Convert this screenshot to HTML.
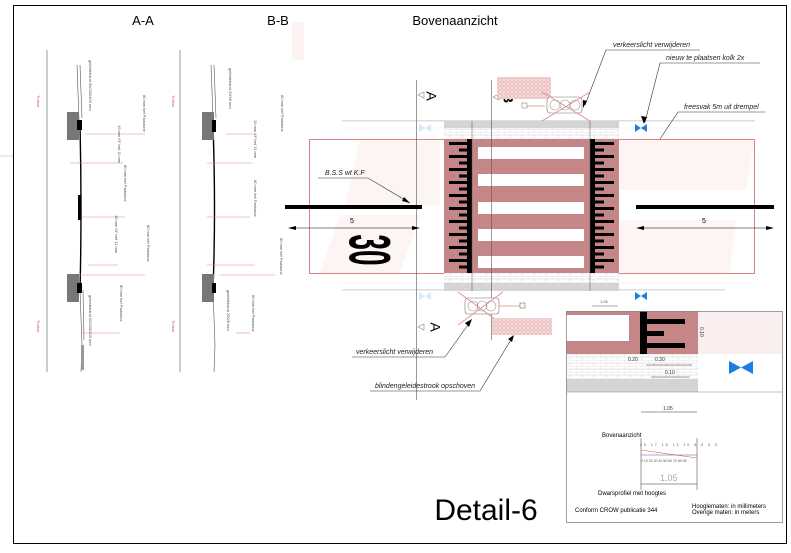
<!DOCTYPE html>
<html><head><meta charset="utf-8"><style>
html,body{margin:0;padding:0;background:#fff;}
svg{display:block;font-family:"Liberation Sans",sans-serif;}
.it{font-family:"Liberation Sans",sans-serif;font-style:italic;font-size:7px;fill:#222;}
.tiny{font-size:4px;fill:#555;}
</style></head><body>
<svg width="791" height="553" viewBox="0 0 791 553" xmlns="http://www.w3.org/2000/svg">
<defs>
<pattern id="brick" width="12" height="6" patternUnits="userSpaceOnUse">
<rect width="12" height="6" fill="#fff"/>
<path d="M0 0H12M0 3H12M0 0V3M6 3V6" stroke="#ccc" stroke-width="0.5" fill="none"/>
</pattern>
<pattern id="grid" width="4" height="4" patternUnits="userSpaceOnUse">
<rect width="4" height="4" fill="#f7dede"/><circle cx="2" cy="2" r="1.3" fill="none" stroke="#d99" stroke-width="0.5"/>
</pattern>
</defs>
<rect width="791" height="553" fill="#fff"/>
<rect x="13.5" y="5.5" width="773" height="538" fill="none" stroke="#000" stroke-width="1"/>
<line x1="0" y1="156" x2="13" y2="156" stroke="#aaa" stroke-width="0.5"/>

<text x="143" y="25" font-size="13" text-anchor="middle">A-A</text>
<text x="278" y="25" font-size="13" text-anchor="middle">B-B</text>
<text x="455" y="25" font-size="13" text-anchor="middle">Bovenaanzicht</text>
<rect x="292" y="22" width="12" height="38" fill="#fdf3f3"/>

<!-- A-A / B-B sections -->
<g stroke="#555" stroke-width="0.6" fill="none">
<line x1="47" y1="50" x2="47" y2="372"/>
<line x1="77" y1="65" x2="79" y2="120"/><line x1="80" y1="65" x2="82" y2="118"/>
<path d="M80 125 Q82 210 80 290" stroke="#000" stroke-width="1.4"/>
<path d="M80 290 L82 345 L81 372"/>
<line x1="83" y1="290" x2="84" y2="340"/>
<line x1="180" y1="50" x2="180" y2="372"/>
<line x1="211" y1="65" x2="213" y2="118"/><line x1="214" y1="65" x2="216" y2="118"/>
<path d="M213 125 Q216 210 213 290" stroke="#000" stroke-width="1.4"/>
<path d="M213 290 L215 345 L214 372"/>
</g>
<rect x="67" y="112" width="12" height="28" fill="#777"/>
<rect x="67" y="274" width="12" height="28" fill="#777"/>
<rect x="77" y="120" width="5" height="10" fill="#000"/>
<rect x="77" y="283" width="5" height="10" fill="#000"/>
<rect x="78" y="195" width="3" height="25" fill="#000"/>
<rect x="81" y="345" width="3" height="25" fill="#999"/>
<rect x="202" y="112" width="12" height="28" fill="#777"/>
<rect x="202" y="274" width="12" height="28" fill="#777"/>
<rect x="212" y="120" width="4" height="12" fill="#000"/>
<rect x="212" y="283" width="4" height="10" fill="#000"/>
<g stroke="#e08a8a" stroke-width="0.6">
<line x1="85" y1="134" x2="145" y2="134"/><line x1="70" y1="163" x2="123" y2="163"/>
<line x1="82" y1="217" x2="125" y2="217"/><line x1="88" y1="265" x2="118" y2="265"/>
<line x1="80" y1="275" x2="145" y2="275"/><line x1="82" y1="333" x2="120" y2="333"/>
<line x1="226" y1="134" x2="255" y2="134"/><line x1="207" y1="163" x2="252" y2="163"/>
<line x1="207" y1="217" x2="250" y2="217"/><line x1="207" y1="265" x2="255" y2="265"/>
<line x1="220" y1="275" x2="275" y2="275"/><line x1="236" y1="333" x2="250" y2="333"/>
</g>
<g class="tiny">
<text transform="translate(143,95) rotate(90)">80 mm kef Padstone</text>
<text transform="translate(118,125) rotate(90)">15 mm KF bef 11 mm</text>
<text transform="translate(124,165) rotate(90)">80 mm kef Padstone</text>
<text transform="translate(115,215) rotate(90)">15 mm KF bef 11 mm</text>
<text transform="translate(147,225) rotate(90)">80 mm kef Padstone</text>
<text transform="translate(120,285) rotate(90)">80 mm kef Padstone</text>
<text transform="translate(89,60) rotate(90)">geleideband 50/200/400 mm</text>
<text transform="translate(89,295) rotate(90)">geleideband 50/200/100 mm</text>
<text transform="translate(229,68) rotate(90)">geleideband 200/6 mm</text>
<text transform="translate(281,95) rotate(90)">80 mm kef Padstone</text>
<text transform="translate(254,120) rotate(90)">15 mm KF bef 11 mm</text>
<text transform="translate(254,180) rotate(90)">80 mm kef Padstone</text>
<text transform="translate(280,238) rotate(90)">80 mm kef Padstone</text>
<text transform="translate(252,295) rotate(90)">80 mm kef Padstone</text>
<text transform="translate(227,290) rotate(90)">geleideband 200/6 mm</text>
</g>
<g fill="#d55" font-size="4"><text transform="translate(37,95) rotate(90)">Trottoir</text><text transform="translate(37,320) rotate(90)">Trottoir</text>
<text transform="translate(172,95) rotate(90)">Trottoir</text><text transform="translate(172,320) rotate(90)">Trottoir</text></g>

<!-- plan view -->
<rect x="342" y="120" width="413" height="1.5" fill="#ddd"/>
<rect x="342" y="289" width="383" height="1.5" fill="#ddd"/>
<line x1="342" y1="128" x2="755" y2="128" stroke="#eee" stroke-width="0.6"/>
<line x1="342" y1="283" x2="755" y2="283" stroke="#eee" stroke-width="0.6"/>
<polygon points="360,139 440,139 440,205 345,205" fill="#fdf4f4"/>
<polygon points="340,215 420,215 400,273 320,273" fill="#fdf4f4"/>
<polygon points="620,139 754,139 746,190 620,190" fill="#fdf4f4"/>
<polygon points="620,220 736,220 730,273 620,273" fill="#fdf4f4"/>
<rect x="309.5" y="139.5" width="445" height="134" fill="none" stroke="#e08080" stroke-width="1"/>
<rect x="444" y="121" width="175" height="7" fill="#d4d4d4"/>
<rect x="444" y="128" width="175" height="11" fill="url(#brick)"/>
<rect x="444" y="273" width="175" height="10" fill="url(#brick)"/>
<rect x="444" y="283" width="175" height="8" fill="#d4d4d4"/>
<rect x="444" y="139" width="175" height="134" fill="#c48686"/>
<g fill="#fff">
<rect x="478" y="147" width="106" height="12"/><rect x="478" y="174" width="106" height="12"/>
<rect x="478" y="202" width="106" height="12"/><rect x="478" y="229" width="106" height="12"/>
<rect x="478" y="256" width="106" height="12"/>
</g>
<rect x="467" y="139" width="5" height="134" fill="#000"/>
<rect x="590" y="139" width="5" height="134" fill="#000"/>
<g fill="#000">
<rect x="449" y="142" width="20" height="3"/><rect x="459" y="148.5" width="10" height="3"/>
<rect x="449" y="155" width="20" height="3"/><rect x="459" y="161.5" width="10" height="3"/>
<rect x="449" y="168" width="20" height="3"/><rect x="459" y="174.5" width="10" height="3"/>
<rect x="449" y="181" width="20" height="3"/><rect x="459" y="187.5" width="10" height="3"/>
<rect x="449" y="194" width="20" height="3"/><rect x="459" y="200.5" width="10" height="3"/>
<rect x="449" y="207" width="20" height="3"/><rect x="459" y="213.5" width="10" height="3"/>
<rect x="449" y="220" width="20" height="3"/><rect x="459" y="226.5" width="10" height="3"/>
<rect x="449" y="233" width="20" height="3"/><rect x="459" y="239.5" width="10" height="3"/>
<rect x="449" y="246" width="20" height="3"/><rect x="459" y="252.5" width="10" height="3"/>
<rect x="449" y="259" width="20" height="3"/><rect x="459" y="265.5" width="10" height="3"/>
<rect x="594" y="142" width="20" height="3"/><rect x="594" y="148.5" width="10" height="3"/>
<rect x="594" y="155" width="20" height="3"/><rect x="594" y="161.5" width="10" height="3"/>
<rect x="594" y="168" width="20" height="3"/><rect x="594" y="174.5" width="10" height="3"/>
<rect x="594" y="181" width="20" height="3"/><rect x="594" y="187.5" width="10" height="3"/>
<rect x="594" y="194" width="20" height="3"/><rect x="594" y="200.5" width="10" height="3"/>
<rect x="594" y="207" width="20" height="3"/><rect x="594" y="213.5" width="10" height="3"/>
<rect x="594" y="220" width="20" height="3"/><rect x="594" y="226.5" width="10" height="3"/>
<rect x="594" y="233" width="20" height="3"/><rect x="594" y="239.5" width="10" height="3"/>
<rect x="594" y="246" width="20" height="3"/><rect x="594" y="252.5" width="10" height="3"/>
<rect x="594" y="259" width="20" height="3"/><rect x="594" y="265.5" width="10" height="3"/>
</g>
<line x1="472" y1="121" x2="472" y2="291" stroke="#555" stroke-width="0.5"/>
<line x1="590" y1="121" x2="590" y2="291" stroke="#555" stroke-width="0.5"/>
<line x1="416.5" y1="80" x2="416.5" y2="400" stroke="#555" stroke-width="0.6"/>
<line x1="491.5" y1="80" x2="491.5" y2="340" stroke="#555" stroke-width="0.6"/>
<text transform="translate(430,96) rotate(90)" font-size="14" text-anchor="middle" dominant-baseline="middle">A</text>
<text transform="translate(507,98) rotate(90)" font-size="14" font-weight="bold" text-anchor="middle" dominant-baseline="middle">B</text>
<text transform="translate(434,327) rotate(90)" font-size="14" text-anchor="middle" dominant-baseline="middle">A</text>
<text transform="translate(511,330) rotate(90)" font-size="14" font-weight="bold" text-anchor="middle" dominant-baseline="middle">B</text>
<g stroke="#888" stroke-width="0.6" fill="#fff">
<polygon points="418,95 424,92 424,98"/><polygon points="493,97 499,94 499,100"/>
<polygon points="418,327 424,324 424,330"/><polygon points="493,328 499,325 499,331"/>
</g>
<rect x="285" y="205" width="137" height="4" fill="#000"/>
<rect x="636" y="205" width="138" height="4" fill="#000"/>
<g stroke="#000" stroke-width="0.6">
<line x1="292" y1="228" x2="414" y2="228"/><line x1="642" y1="228" x2="768" y2="228"/>
</g>
<polygon points="288,228 296,226 296,230" fill="#000"/><polygon points="420,228 412,226 412,230" fill="#000"/>
<polygon points="636,228 644,226 644,230" fill="#000"/><polygon points="774,228 766,226 766,230" fill="#000"/>
<text x="352" y="223" font-size="7" text-anchor="middle">5</text>
<text x="704" y="223" font-size="7" text-anchor="middle">5</text>
<text transform="translate(370,250) rotate(90) scale(1,2.1)" font-size="28" font-weight="bold" text-anchor="middle" dominant-baseline="central">30</text>
<text x="325" y="175" class="it">B.S.S wt K.F</text>
<polyline points="318,178 368,178 410,203" fill="none" stroke="#333" stroke-width="0.6"/>
<polygon points="410,203 404,197 402,201" fill="#000"/>
<text x="613" y="47" class="it">verkeerslicht verwijderen</text>
<polyline points="700,50 606,50 585,105" fill="none" stroke="#333" stroke-width="0.6"/>
<polygon points="583,108 583,100 587,101" fill="#000"/>
<text x="666" y="60" class="it">nieuw te plaatsen kolk 2x</text>
<polyline points="760,63 660,63 645,122" fill="none" stroke="#333" stroke-width="0.6"/>
<polygon points="644,124 641,116 647,117" fill="#000"/>
<text x="684" y="109" class="it">freesvak 5m uit drempel</text>
<polyline points="765,112 678,112 660,139" fill="none" stroke="#333" stroke-width="0.6"/>
<text x="356" y="354" class="it">verkeerslicht verwijderen</text>
<polyline points="352,357 445,357 470,322" fill="none" stroke="#333" stroke-width="0.6"/>
<polygon points="472,319 465,323 469,327" fill="#000"/>
<text x="375" y="388" class="it">blindengeleidestrook opschoven</text>
<polyline points="370,391 480,391 512,338" fill="none" stroke="#333" stroke-width="0.6"/>
<polygon points="514,335 508,339 512,342" fill="#000"/>
<rect x="497" y="77" width="54" height="22" fill="url(#grid)"/>
<rect x="547" y="97" width="35" height="16" rx="3" fill="#fff" stroke="#777" stroke-width="0.6"/>
<g fill="none" stroke="#999" stroke-width="0.6"><circle cx="555" cy="105" r="5"/><circle cx="565" cy="105" r="5"/><circle cx="575" cy="105" r="5"/></g>
<g stroke="#e08a8a" stroke-width="0.8"><line x1="542" y1="92" x2="590" y2="121"/><line x1="590" y1="92" x2="542" y2="121"/><line x1="525" y1="106" x2="545" y2="106"/></g>
<rect x="522" y="103" width="5" height="5" fill="#fff" stroke="#777" stroke-width="0.5"/>
<rect x="465" y="298" width="34" height="16" rx="3" fill="#fff" stroke="#777" stroke-width="0.6"/>
<g fill="none" stroke="#999" stroke-width="0.6"><circle cx="473" cy="306" r="5"/><circle cx="482" cy="306" r="5"/><circle cx="491" cy="306" r="5"/></g>
<g stroke="#e08a8a" stroke-width="0.8"><line x1="458" y1="292" x2="503" y2="325"/><line x1="503" y1="292" x2="458" y2="325"/><line x1="499" y1="306" x2="522" y2="306"/></g>
<rect x="520" y="303" width="5" height="5" fill="#fff" stroke="#555" stroke-width="0.5"/>
<rect x="492" y="318" width="60" height="17" fill="url(#grid)"/>
<g fill="#1a7fe0"><polygon points="635,124 647,132 647,124 635,132"/><polygon points="635,292 647,300 647,292 635,300"/></g>
<g fill="#d9e8f5"><polygon points="419,124 431,132 431,124 419,132"/><polygon points="419,292 431,300 431,292 419,300"/></g>
<text x="600" y="303" font-size="4" fill="#555">1.05</text>
<line x1="592" y1="306" x2="618" y2="306" stroke="#555" stroke-width="0.5"/>

<!-- detail box -->
<rect x="566" y="311" width="132" height="43" fill="#c48686"/>
<rect x="566" y="315" width="63" height="26" fill="#fff"/>
<rect x="640" y="311" width="7" height="43" fill="#000"/>
<rect x="647" y="319" width="38" height="5" fill="#000"/>
<rect x="647" y="331" width="17" height="5" fill="#000"/>
<rect x="647" y="343" width="38" height="5" fill="#000"/>
<rect x="566" y="354" width="132" height="25" fill="url(#brick)"/>
<rect x="566" y="379" width="132" height="13" fill="#d4d4d4"/>
<rect x="698" y="311" width="84" height="43" fill="#fbeeee"/>
<polygon points="729,361 753,374 753,361 729,374" fill="#1a7fe0"/>
<rect x="566.5" y="311.5" width="216" height="211" fill="none" stroke="#888" stroke-width="0.8"/>
<line x1="566" y1="392" x2="782" y2="392" stroke="#888" stroke-width="0.6"/>
<g font-size="5" fill="#333">
<text x="628" y="361">0.20</text><text x="655" y="361">0.30</text><text x="665" y="374">0.10</text>
<text x="700" y="327" transform="rotate(90 700 327)">0.10</text>
<text x="663" y="410">1.05</text>
</g>
<g stroke="#333" stroke-width="0.5"><line x1="641" y1="412" x2="697" y2="412"/><line x1="646" y1="365" x2="692" y2="365"/><line x1="651" y1="377" x2="689" y2="377"/>
<line x1="641" y1="438" x2="641" y2="490"/><line x1="697" y1="438" x2="697" y2="490"/><line x1="641" y1="484" x2="697" y2="484"/></g>
<text x="602" y="437" font-size="6">Bovenaanzicht</text>
<text x="640" y="446" font-size="3.5" fill="#555" letter-spacing="2">20 17 15 13 10 8 5 3 0</text>
<line x1="641" y1="450" x2="697" y2="458" stroke="#d55" stroke-width="0.6"/>
<line x1="641" y1="455" x2="697" y2="455" stroke="#55a" stroke-width="0.6"/>
<text x="641" y="462" font-size="3.5" fill="#555">0 10 20 30 40 50 60 70 80 90</text>
<text x="660" y="481" font-size="9" fill="#aaa">1.05</text>
<text x="598" y="495" font-size="6">Dwarsprofiel met hoogtes</text>
<text x="575" y="512" font-size="6">Conform CROW publicatie 344</text>
<text x="692" y="508" font-size="6">Hooglematen: in millimeters</text>
<text x="692" y="514" font-size="6">Overige maten: in meters</text>
<text x="486" y="520" font-size="30" text-anchor="middle">Detail-6</text>
</svg>
</body></html>
